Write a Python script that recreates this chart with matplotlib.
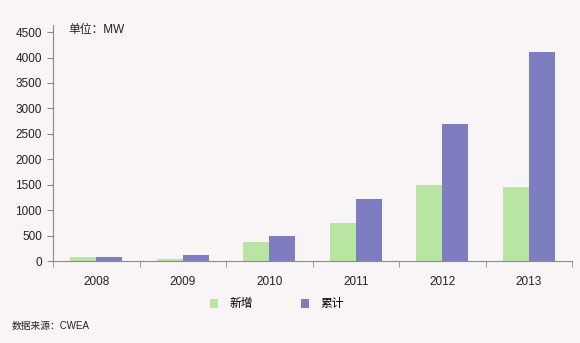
import matplotlib
matplotlib.use("Agg")
import matplotlib.pyplot as plt
import numpy as np

years = ["2008", "2009", "2010", "2011", "2012", "2013"]
new_cap = [70, 30, 380, 740, 1490, 1450]
cum_cap = [72, 110, 490, 1220, 2690, 4100]
yticks = [0, 500, 1000, 1500, 2000, 2500, 3000, 3500, 4000, 4500]

plt.rcParams['font.family'] = ['Liberation Sans', 'Noto Sans CJK SC', 'DejaVu Sans']

bg = '#f9f4f6'
green = '#b9e5a2'
blue = '#7e7dc0'
axc = '#8a8a8a'

fig = plt.figure(figsize=(5.8, 3.43), dpi=100, facecolor=bg)
ax = fig.add_axes([53/580, 82/343, (572-53)/580, (261-25)/343], facecolor=bg)

x = np.arange(len(years))
w = 0.30
ax.bar(x - w/2, new_cap, width=w, color=green, label='新增')
ax.bar(x + w/2, cum_cap, width=w, color=blue, label='累计')

ax.set_xlim(-0.5, len(years) - 0.5)
ax.set_ylim(0, 4640)
ax.set_yticks(yticks)
ax.set_yticklabels([str(v) for v in yticks], fontsize=8.5, color='#222222')
ax.set_xticks(x)
ax.set_xticklabels(years, fontsize=8.5, color='#222222')
ax.set_xticks(np.arange(-0.5, len(years)), minor=True)
ax.tick_params(axis='x', which='major', length=0, pad=11)
ax.tick_params(axis='x', which='minor', length=4, color=axc, direction='out')
ax.tick_params(axis='y', length=4, color=axc, direction='out', pad=4)

for s in ['top', 'right']:
    ax.spines[s].set_visible(False)
for s in ['left', 'bottom']:
    ax.spines[s].set_color(axc)
    ax.spines[s].set_linewidth(0.8)

fig.text(68/580, 1 - 30/343, '单位：MW', fontsize=8.5, va='center', ha='left',
         family=['Liberation Sans', 'Noto Sans CJK SC'], color='#222222')
fig.text(12/580, 1 - 326/343, '数据来源：CWEA', fontsize=7, va='center', ha='left',
         family=['Liberation Sans', 'Noto Sans CJK SC'], color='#222222')

leg = fig.legend(loc='center', bbox_to_anchor=(277/580, 1 - 304/343), ncol=2,
                 frameon=False, handlelength=0.7, handleheight=0.7,
                 columnspacing=4.0, handletextpad=1.0,
                 prop={'family': ['Noto Sans CJK SC'], 'size': 8.5})

fig.savefig('out.png', dpi=100, facecolor=bg)
